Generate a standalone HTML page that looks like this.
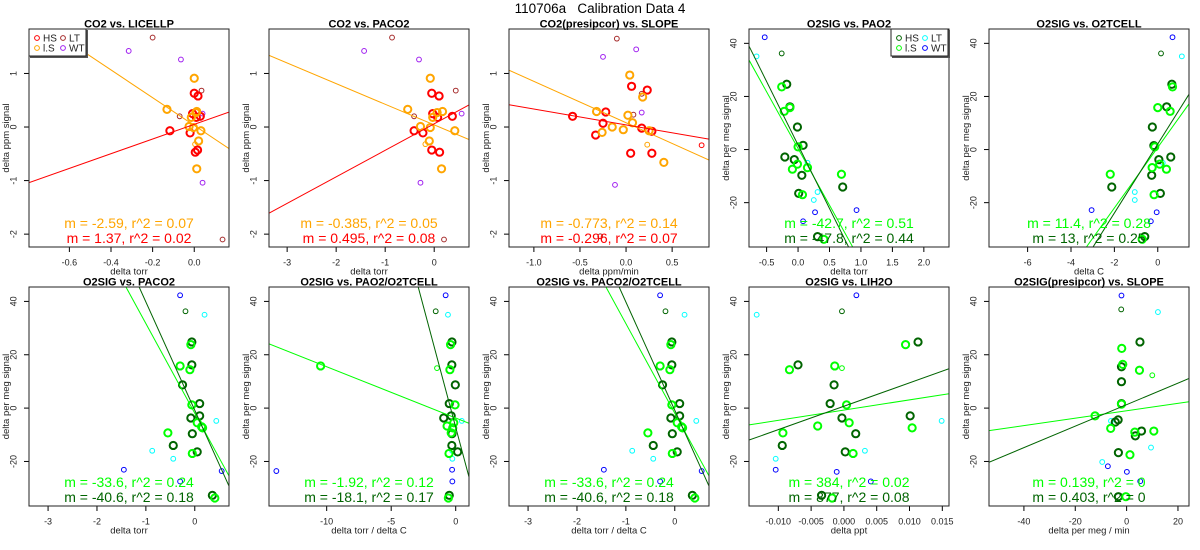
<!DOCTYPE html>
<html><head><meta charset="utf-8"><style>
html,body{margin:0;padding:0;background:#fff;}
svg{display:block;font-family:"Liberation Sans",Arial,sans-serif;}
</style></head><body>
<svg id="chart" width="1200" height="550" viewBox="0 0 1200 550" xmlns="http://www.w3.org/2000/svg">
<text x="600" y="13" text-anchor="middle" font-size="13.5" xml:space="preserve">110706a&#160;&#160;&#160;Calibration Data 4</text>
</svg>
<script>
// ---------- data (data units) ----------
const p1HS=[[0.0,0.63],[0.018,0.58],[-0.117,-0.07],[-0.02,-0.11],[0.029,0.20],[0.01,0.18],[-0.008,0.25],[0.005,-0.47],[0.016,-0.43]];
const p1LS=[[0.0,0.91],[-0.131,0.33],[0.012,0.29],[0.008,0.27],[-0.014,0.18],[-0.025,0.01],[-0.004,-0.01],[0.032,-0.07],[0.021,-0.26],[0.012,-0.78]];
const p1LSs=[[0.004,-0.32]];
const p1LT=[[-0.2,1.67],[0.035,0.68],[-0.07,0.2],[0.136,-2.10]];
const p1WT=[[-0.315,1.42],[-0.064,1.26],[0.04,0.25],[0.04,-1.04]];
const p2HS=[[-0.05,0.63],[0.10,0.58],[-0.41,-0.07],[-0.23,-0.11],[0.37,0.20],[0.07,0.18],[-0.03,0.25],[0.11,-0.47],[-0.05,-0.43]];
const p2LS=[[-0.08,0.91],[-0.54,0.33],[0.17,0.29],[0.06,0.27],[-0.03,0.18],[-0.28,0.01],[-0.08,-0.01],[0.42,-0.07],[-0.1,-0.26],[0.15,-0.78]];
const p2LSs=[[-0.18,-0.32]];
const p2LT=[[-0.86,1.67],[0.44,0.68],[-0.41,0.2],[0.2,-2.10]];
const p2WT=[[-1.43,1.42],[-0.31,1.26],[0.56,0.25],[-0.28,-1.04]];
const p3HS=[[-0.58,0.20],[0.06,0.76],[0.23,0.69],[-0.22,0.28],[-0.25,0.07],[-0.33,-0.15],[0.17,-0.02],[0.28,-0.08],[0.05,-0.49],[0.28,-0.49]];
const p3LS=[[0.04,0.97],[0.18,0.56],[-0.32,0.29],[0.02,0.22],[0.07,0.08],[-0.15,0.0],[-0.03,-0.05],[-0.26,-0.10],[0.25,-0.07],[0.41,-0.66]];
const p3LSs=[[0.23,-0.33]];
const p3HSs=[[0.82,-0.34]];
const p3LT=[[-0.10,1.65],[0.17,0.62],[0.08,0.23],[-0.28,-2.04]];
const p3WT=[[-0.25,1.31],[0.11,1.45],[0.17,0.27],[-0.12,-1.08]];
const p4HS=[[-0.18,24.6],[-0.13,16.1],[-0.01,8.5],[0.08,1.6],[-0.21,-2.8],[-0.06,-3.8],[0.06,-9.7],[0.01,-16.5],[0.71,-14.1],[0.31,-32.8]];
const p4LS=[[-0.26,23.6],[-0.22,14.4],[-0.13,15.8],[0.0,1.0],[-0.01,-5.5],[-0.09,-7.4],[0.15,-6.8],[0.07,-17.0],[0.69,-9.3],[0.41,-33.8]];
const p4HSs=[[-0.26,36.2]];
const p4LT=[[-0.66,35.1],[0.15,-5.0],[0.31,-16.0],[0.25,-19.0]];
const p4WT=[[-0.53,42.3],[0.27,-23.6],[0.08,-27.0],[0.93,-22.8]];
const p5HS=[[0.65,24.6],[0.41,16.1],[-0.25,8.5],[-0.18,1.5],[0.6,-2.8],[0.05,-3.8],[-0.28,-9.7],[0.12,-16.5],[-2.12,-14.1],[-0.6,-32.8]];
const p5LS=[[0.68,23.6],[0.0,15.8],[0.57,14.4],[-0.14,1.0],[0.09,-5.5],[0.4,-7.4],[-0.26,-6.8],[-0.17,-17.0],[-2.19,-9.3],[-0.72,-33.8]];
const p5HSs=[[0.15,36.2]];
const p5LT=[[1.11,35.1],[0.23,-5.0],[-1.06,-16.0],[-1.06,-19.0]];
const p5WT=[[0.68,42.3],[-0.05,-23.6],[-0.32,-27.0],[-3.05,-22.8]];
const p6HS=[[-0.06,24.8],[-0.06,16.2],[-0.25,8.7],[0.10,1.7],[0.10,-2.9],[-0.08,-3.7],[-0.05,-9.6],[0.05,-16.4],[-0.44,-14.0],[0.36,-32.7]];
const p6LS=[[-0.08,23.8],[-0.30,15.8],[-0.10,14.4],[-0.06,1.2],[0.05,-5.5],[0.16,-7.4],[0.14,-7.0],[-0.05,-17.0],[-0.55,-9.3],[0.41,-33.7]];
const p6HSs=[[-0.19,36.3]];
const p6LT=[[0.2,35.0],[0.44,-4.8],[-0.87,-16.0],[-0.44,-19.0]];
const p6WT=[[-0.30,42.3],[-1.45,-23.1],[-0.30,-27.5],[0.55,-23.6]];
const p7HS=[[-0.29,24.8],[-0.3,16.2],[-0.03,8.7],[-0.5,1.7],[-0.35,-2.9],[-0.93,-3.7],[-0.29,-9.6],[0.15,-16.4],[-0.3,-14.0],[-0.5,-32.7]];
const p7LS=[[-0.4,23.8],[-0.45,14.4],[-10.47,15.8],[-0.05,1.2],[-0.15,-5.5],[-0.23,-7.4],[-0.67,-6.7],[-0.35,-9.3],[-0.52,-17.0],[-0.57,-33.7]];
const p7HSs=[[-1.55,36.3]];
const p7LSs=[[-1.45,15.0]];
const p7LT=[[-0.6,35.0],[0.47,-4.8],[-0.28,-16.0],[-0.26,-19.0]];
const p7WT=[[-0.78,42.3],[-13.9,-23.6],[-0.28,-23.1],[-0.26,-27.5]];
const p9HS=[[0.0113,24.8],[-0.0070,16.2],[-0.0015,8.7],[-0.0021,1.7],[0.0101,-2.9],[-0.0003,-3.7],[0.0018,-9.6],[0.0002,-16.4],[-0.0094,-14.0],[-0.0034,-32.7]];
const p9LS=[[0.0094,23.8],[-0.0083,14.4],[-0.0014,15.8],[0.0004,1.2],[0.0008,-5.5],[0.0104,-7.4],[-0.0040,-6.7],[-0.0093,-9.3],[0.0014,-17.0],[-0.0018,-33.7]];
const p9HSs=[[-0.0003,36.3]];
const p9LSs=[[-0.0003,15.0]];
const p9LT=[[-0.0133,35.0],[0.0149,-4.8],[0.0032,-16.0],[-0.0104,-19.0]];
const p9WT=[[0.0019,42.3],[-0.0104,-23.1],[-0.0011,-23.9],[0.0041,-27.5]];
const p10HS=[[5.2,24.8],[-2.0,15.5],[-2.0,9.9],[-2.0,1.7],[-4.4,-5.2],[-3.3,-4.4],[5.8,-8.6],[3.4,-10.4],[-3.2,-16.7],[-3.2,-33.2]];
const p10LS=[[-1.9,22.4],[-1.5,16.4],[5.0,14.2],[-2.0,1.5],[-12.3,-2.9],[-6.2,-7.6],[3.2,-9.0],[10.6,-8.6],[1.3,-17.5],[-0.3,-33.2]];
const p10HSs=[[-2.1,37.0]];
const p10LSs=[[10.0,12.3]];
const p10LT=[[12.2,36.0],[-6.1,-4.8],[9.5,-14.8],[-9.5,-20.2]];
const p10WT=[[-2.0,42.2],[-7.3,-21.8],[0.1,-23.9],[5.3,-27.4]];
const fitLS=[[-2.59,0.03],[-0.385,0.04],[-0.773,0.08],[-42.7,0.4],[11.4,0.8],[-33.6,-1.9],[-1.92,-3.7],[-33.6,-1.9],[384,-0.75],[0.139,-1.0]];
const fitHS=[[1.37,0.05],[0.495,0.06],[-0.296,0.04],[-47.8,1.7],[13,2.1],[-40.6,-0.8],[-18.1,-7.2],[-40.6,-0.8],[877,0.7],[0.403,1.3]];
const labelLS=["m = -2.59, r^2 = 0.07","m = -0.385, r^2 = 0.05","m = -0.773, r^2 = 0.14","m = -42.7, r^2 = 0.51","m = 11.4, r^2 = 0.28","m = -33.6, r^2 = 0.24","m = -1.92, r^2 = 0.12","m = -33.6, r^2 = 0.24","m = 384, r^2 = 0.02","m = 0.139, r^2 = 0"];
const labelHS=["m = 1.37, r^2 = 0.02","m = 0.495, r^2 = 0.08","m = -0.296, r^2 = 0.07","m = -47.8, r^2 = 0.44","m = 13, r^2 = 0.25","m = -40.6, r^2 = 0.18","m = -18.1, r^2 = 0.17","m = -40.6, r^2 = 0.18","m = 877, r^2 = 0.08","m = 0.403, r^2 = 0"];
const titles=["CO2 vs. LICELLP","CO2 vs. PACO2","CO2(presipcor) vs. SLOPE","O2SIG vs. PAO2","O2SIG vs. O2TCELL","O2SIG vs. PACO2","O2SIG vs. PAO2/O2TCELL","O2SIG vs. PACO2/O2TCELL","O2SIG vs. LIH2O","O2SIG(presipcor) vs. SLOPE"];
const xLabels=["delta torr","delta torr","delta ppm/min","delta torr","delta C","delta torr","delta torr / delta C","delta torr / delta C","delta ppt","delta per meg / min"];
const xTicks=[[-0.6,-0.4,-0.2,0.0],[-3,-2,-1,0],[-1.0,-0.5,0.0,0.5],[-0.5,0.0,0.5,1.0,1.5,2.0],[-6,-4,-2,0],[-3,-2,-1,0],[-10,-5,0],[-3,-2,-1,0],[-0.010,-0.005,0.000,0.005,0.010,0.015],[-40,-20,0,20]];
const xTickLabels=[["-0.6","-0.4","-0.2","0.0"],["-3","-2","-1","0"],["-1.0","-0.5","0.0","0.5"],["-0.5","0.0","0.5","1.0","1.5","2.0"],["-6","-4","-2","0"],["-3","-2","-1","0"],["-10","-5","0"],["-3","-2","-1","0"],["-0.010","-0.005","0.000","0.005","0.010","0.015"],["-40","-20","0","20"]];
const co2YTicks=[-2,-1,0,1];
const o2YTicks=[-20,0,20,40];
// ---------- layout ----------
const xLims=[[-0.794,0.167],[-3.37,0.71],[-1.27,0.90],[-0.78,2.40],[-7.78,1.44],[-3.39,0.70],[-14.47,1.03],[-3.39,0.70],[-0.01447,0.01602],[-53.6,24.3]];
const colX=[29,269,509,749,989];
const PW=200;
const rowY=[[29,247],[287,506]];
const co2Col={HS:"#ff0000",LS:"#ffa500",LT:"#a52a2a",WT:"#a020f0"};
const o2Col={HS:"#006400",LS:"#00ff00",LT:"#00ffff",WT:"#0000ff"};
const groups=[
 {HS:p1HS,LS:p1LS,LSs:p1LSs,LT:p1LT,WT:p1WT},
 {HS:p2HS,LS:p2LS,LSs:p2LSs,LT:p2LT,WT:p2WT},
 {HS:p3HS,LS:p3LS,LSs:p3LSs,HSs:p3HSs,LT:p3LT,WT:p3WT},
 {HS:p4HS,LS:p4LS,HSs:p4HSs,LT:p4LT,WT:p4WT},
 {HS:p5HS,LS:p5LS,HSs:p5HSs,LT:p5LT,WT:p5WT},
 {HS:p6HS,LS:p6LS,HSs:p6HSs,LT:p6LT,WT:p6WT},
 {HS:p7HS,LS:p7LS,HSs:p7HSs,LSs:p7LSs,LT:p7LT,WT:p7WT},
 {HS:p6HS,LS:p6LS,HSs:p6HSs,LT:p6LT,WT:p6WT},
 {HS:p9HS,LS:p9LS,HSs:p9HSs,LSs:p9LSs,LT:p9LT,WT:p9WT},
 {HS:p10HS,LS:p10LS,HSs:p10HSs,LSs:p10LSs,LT:p10LT,WT:p10WT}
];
const NS="http://www.w3.org/2000/svg";
const svg=document.getElementById('chart');
function mk(tag,attrs,parent){const e=document.createElementNS(NS,tag);for(const k in attrs)e.setAttribute(k,attrs[k]);parent.appendChild(e);return e;}
function slug(s){return s.toLowerCase().replace(/[^a-z0-9]+/g,'-').replace(/^-|-$/g,'');}

for(let i=0;i<10;i++){
  const row=i<5?0:1, col=i%5;
  const x0=colX[col], x1=x0+PW, y0=rowY[row][0], y1=rowY[row][1];
  const isCO2=i<3;
  const yl=isCO2?[-2.24,1.83]:[-36.7,45.4];
  const cols=isCO2?co2Col:o2Col;
  const xs=v=>x0+(v-xLims[i][0])/(xLims[i][1]-xLims[i][0])*PW;
  const ys=v=>y1-(v-yl[0])/(yl[1]-yl[0])*(y1-y0);
  const g=mk('g',{},svg);
  
  
  const cp=mk('clipPath',{id:'cp'+i},g);
  mk('rect',{x:x0,y:y0,width:PW,height:y1-y0},cp);
  const t=mk('text',{x:(x0+x1)/2,y:y0-1.5,'text-anchor':'middle','font-size':11,'font-weight':'bold'},g);
  t.textContent=titles[i];
  
  
  const xa=mk('g',{},g);
  
  
  xTicks[i].forEach((v,k)=>{
    const px=xs(v);
    mk('line',{x1:px,x2:px,y1:y1,y2:y1+5,stroke:'#000','stroke-width':1},xa);
    const tl=mk('text',{x:px,y:y1+18.5,'text-anchor':'middle','font-size':9,fill:'#222'},xa);
    tl.textContent=xTickLabels[i][k];
  });
  mk('line',{x1:xs(xTicks[i][0]),x2:xs(xTicks[i][xTicks[i].length-1]),y1:y1,y2:y1,stroke:'#000'},xa);
  const xl=mk('text',{x:(x0+x1)/2,y:y1+27.5,'text-anchor':'middle','font-size':9.5,fill:'#222'},g);
  xl.textContent=xLabels[i];
  
  
  const ya=mk('g',{},g);
  
  
  const yt=isCO2?co2YTicks:o2YTicks;
  yt.forEach(v=>{
    const py=ys(v);
    mk('line',{x1:x0-5,x2:x0,y1:py,y2:py,stroke:'#000'},ya);
    const tl=mk('text',{x:x0-12.5,y:py,'text-anchor':'middle','font-size':9,fill:'#222',transform:`rotate(-90 ${x0-12.5} ${py})`},ya);
    tl.textContent=String(v);
  });
  mk('line',{x1:x0,x2:x0,y1:ys(yt[0]),y2:ys(yt[yt.length-1]),stroke:'#000'},ya);
  const yLab=isCO2?'delta ppm signal':'delta per meg signal';
  const yy=(y0+y1)/2;
  const ylab=mk('text',{x:x0-20,y:yy,'text-anchor':'middle','font-size':9.5,fill:'#222',transform:`rotate(-90 ${x0-20} ${yy})`},g);
  ylab.textContent=yLab;
  
  
  const pg=mk('g',{'clip-path':`url(#cp${i})`},g);
  
  
  const grp=groups[i];
  const order=['LT','WT','HSs','LSs','HS','LS'];
  order.forEach(key=>{
    if(!grp[key])return;
    const ckey=key==='HSs'?'HS':key==='LSs'?'LS':key;
    const big=(key==='HS'||key==='LS');
    grp[key].forEach(p=>{
      const c=mk('circle',{cx:xs(p[0]),cy:ys(p[1]),r:big?3.6:2.4,fill:'none',stroke:cols[ckey],'stroke-width':big?2:1},pg);
      
      
    });
  });
  [['LS',fitLS[i]],['HS',fitHS[i]]].forEach(([k,f])=>{
    const xa0=xLims[i][0], xa1=xLims[i][1];
    const l=mk('line',{x1:xs(xa0),y1:ys(f[0]*xa0+f[1]),x2:xs(xa1),y2:ys(f[0]*xa1+f[1]),stroke:cols[k],'stroke-width':1},pg);
    
    
  });
  const a1=mk('text',{x:(x0+x1)/2,y:y1-19,'text-anchor':'middle','font-size':14,fill:cols.LS},g);
  a1.textContent=labelLS[i];
  
  
  const a2=mk('text',{x:(x0+x1)/2,y:y1-4,'text-anchor':'middle','font-size':14,fill:cols.HS},g);
  a2.textContent=labelHS[i];
  
  
  const b=mk('rect',{x:x0,y:y0,width:PW,height:y1-y0,fill:'none',stroke:'#222','stroke-width':1},g);
  
  
  if(i===0||i===3){
    const lx=i===0?x0:x1-58, ly=y0;
    const lg=mk('g',{},g);
    
    
    mk('rect',{x:lx+1,y:ly+1,width:58,height:28,fill:'#555'},lg);
    mk('rect',{x:lx,y:ly,width:57,height:27,fill:'#fff',stroke:'#222'},lg);
    [['HS',0,0],['LS',0,1],['LT',1,0],['WT',1,1]].forEach(([k,cx,cy])=>{
      const ex=lx+8+cx*26, ey=ly+9+cy*10;
      const e=mk('g',{},lg);
      
      
      mk('circle',{cx:ex,cy:ey,r:2.4,fill:'none',stroke:cols[k]},e);
      const tt=mk('text',{x:ex+6,y:ey+3.5,'font-size':10,fill:'#222'},e);
      tt.textContent=k==='LS'?'l.S':k;
    });
  }
}
</script>
</body></html>
